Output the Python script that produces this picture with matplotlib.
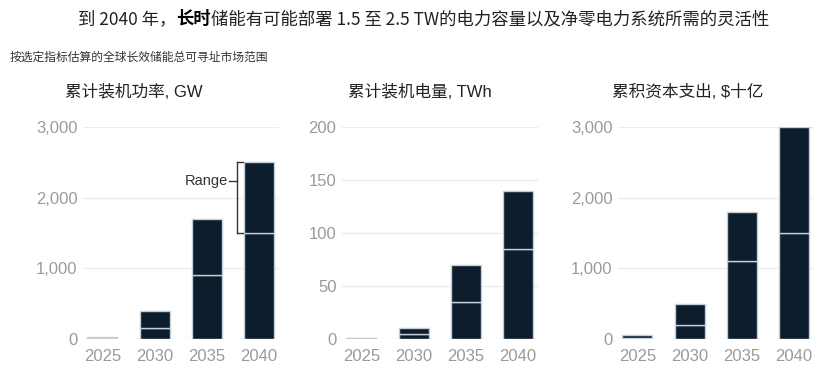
import matplotlib
matplotlib.use("Agg")
import matplotlib.pyplot as plt
from matplotlib.ticker import FuncFormatter

years = ["2025", "2030", "2035", "2040"]
power_low = [10, 150, 900, 1500]
power_high = [30, 400, 1700, 2500]
energy_low = [0.5, 5, 35, 85]
energy_high = [1, 10, 70, 140]
capex_low = [20, 200, 1100, 1500]
capex_high = [50, 500, 1800, 3000]

panel_titles = ["累计装机功率, GW", "累计装机电量, TWh", "累积资本支出, $十亿"]
yticks_list = [[0, 1000, 2000, 3000], [0, 50, 100, 150, 200], [0, 1000, 2000, 3000]]
title_parts = [("到 2040 年，", "normal"), ("长时", "bold"),
               ("储能有可能部署 1.5 至 2.5 TW的电力容量以及净零电力系统所需的灵活性", "normal")]
subtitle = "按选定指标估算的全球长效储能总可寻址市场范围"

W, H = 831, 373
fig = plt.figure(figsize=(W / 100, H / 100), dpi=100)
cjk = ['Noto Sans CJK SC', 'DejaVu Sans']
mixed = ['Liberation Sans', 'Noto Sans CJK SC']

bar_color = "#0c1d2d"
edge_color = "#c5ced6"
grid_color = "#ececec"
tick_color = "#9a9a9a"

panels = [(power_low, power_high), (energy_low, energy_high), (capex_low, capex_high)]
lefts = [83, 342, 618]
width_px = 196
ax_bottom = 339
ax_top = 127

axes = []
for i, (low, high) in enumerate(panels):
    ax = fig.add_axes([lefts[i] / W, 1 - ax_bottom / H, width_px / W, (ax_bottom - ax_top) / H])
    x = list(range(len(years)))
    upper = [h - l for l, h in zip(low, high)]
    ax.bar(x, low, width=0.57, color=bar_color, edgecolor=edge_color, linewidth=1.0, zorder=3)
    ax.bar(x, upper, bottom=low, width=0.57, color=bar_color, edgecolor=edge_color, linewidth=1.0, zorder=3)
    ax.set_xlim(-0.37, 3.38)
    yt = yticks_list[i]
    ax.set_ylim(0, yt[-1])
    ax.set_yticks(yt)
    ax.yaxis.set_major_formatter(FuncFormatter(lambda v, p: f"{int(v):,}"))
    ax.set_xticks(x)
    ax.set_xticklabels(years)
    for s in ax.spines.values():
        s.set_visible(False)
    ax.grid(axis='y', color=grid_color, linewidth=1.0, zorder=0)
    ax.set_axisbelow(True)
    ax.tick_params(axis='both', length=0, colors=tick_color, labelsize=12)
    ax.tick_params(axis='y', pad=4)
    ax.tick_params(axis='x', pad=7)
    for lab in ax.get_xticklabels() + ax.get_yticklabels():
        lab.set_fontfamily('Liberation Sans')
    axes.append(ax)

# Range bracket on first panel
ax = axes[0]
bx = 2.58
ax.plot([bx, bx], [power_low[3], power_high[3]], color="#333333", lw=1.0, clip_on=False, zorder=4)
ax.plot([bx, 2.70], [power_low[3], power_low[3]], color="#333333", lw=1.0, clip_on=False, zorder=4)
ax.plot([bx, 2.70], [power_high[3], power_high[3]], color="#333333", lw=1.0, clip_on=False, zorder=4)
ax.plot([2.42, bx], [2240, 2240], color="#333333", lw=1.0, clip_on=False, zorder=4)
ax.text(2.40, 2240, "Range", ha='right', va='center', fontsize=10.5, color="#333333",
        family='Liberation Sans')

# Panel titles
title_x = [65, 348, 612]
for tx, t in zip(title_x, panel_titles):
    fig.text(tx / W, 1 - 92 / H, t, ha='left', va='center', fontsize=12, color="#222222", family=mixed)

# Subtitle
fig.text(10 / W, 1 - 57 / H, subtitle, ha='left', va='center', fontsize=8.5, color="#333333", family=cjk)

# Main title in parts
prev = None
for txt, wt in title_parts:
    col = "#000000" if wt == 'bold' else "#222222"
    if prev is None:
        prev = fig.text(78 / W, 1 - 19 / H, txt, ha='left', va='center', fontsize=12.5,
                        color=col, family=cjk, fontweight=wt)
    else:
        prev = axes[0].annotate(txt, xy=(1, 0), xycoords=prev, ha='left', va='bottom',
                                fontsize=12.5, color=col, family=cjk, fontweight=wt,
                                annotation_clip=False)

fig.savefig("out.png", dpi=100)
